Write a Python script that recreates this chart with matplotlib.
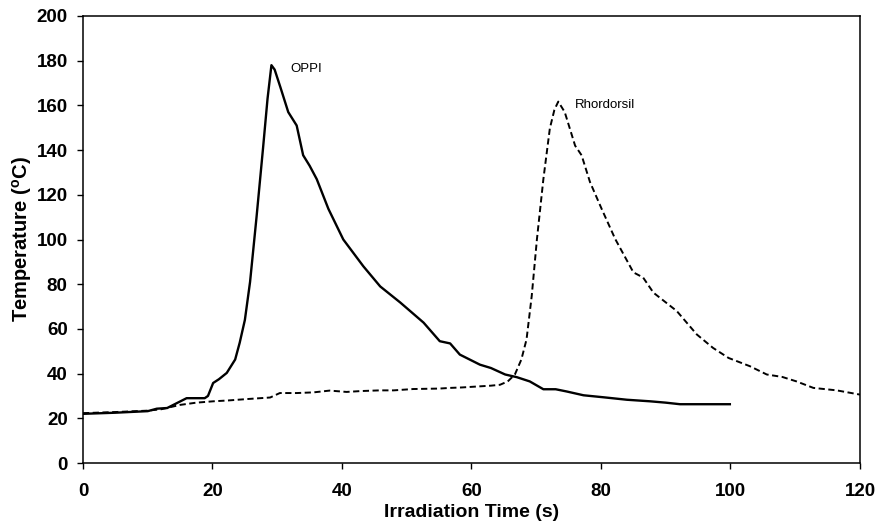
import matplotlib
matplotlib.use("Agg")
import matplotlib.pyplot as plt

plt.rcParams['font.family'] = ['Liberation Sans', 'DejaVu Sans']
plt.rcParams['mathtext.fontset'] = 'custom'
plt.rcParams['mathtext.rm'] = 'Liberation Sans:bold'
plt.rcParams['mathtext.default'] = 'rm'

# OPPI (solid)
oppi_t = [0, 5, 10, 11.4, 13, 14.5, 16, 17, 18.8, 19.3, 20.1, 21, 22.2, 23.5, 24.2,
          25, 25.8, 26.8, 27.8, 28.5, 29.1, 29.6, 30.5, 31.7, 33, 34, 35, 36.1, 37.9,
          40.2, 43.3, 45.9, 49, 52.6, 55.1, 56.7, 58.2, 61.3, 63, 65.2, 67, 69, 71.1,
          73, 74.7, 77.3, 80.4, 84, 87.6, 90, 92.2, 96, 99.9]
oppi_T = [22, 22.5, 23.2, 24.3, 24.6, 26.8, 29, 29, 29, 30, 35.8, 37.5, 40.3, 46.3, 53.8,
          64, 81, 110, 140.7, 163, 178, 176, 168, 157, 151, 137.7, 133, 127, 113.7,
          100, 88, 79, 71.8, 62.8, 54.5, 53.5, 48.5, 44, 42.5, 39.6, 38.4, 36.5, 33,
          33, 32, 30.3, 29.4, 28.3, 27.6, 27, 26.3, 26.3, 26.3]

# Rhordorsil (dashed)
rho_t = [0, 5, 9.8, 12, 15, 17.5, 20.1, 22.5, 25.3, 28.9, 30.4, 33, 35.6, 38.1, 40.7,
         43, 45.9, 48, 51, 55, 56.7, 58.5, 61.3, 63, 64.4, 65.6, 66.7, 67.7, 68.5,
         69.3, 70.1, 71.1, 72.1, 72.8, 73.4, 74.4, 76, 77, 78.3, 80.1, 82.2, 85,
         86.5, 88.1, 91.7, 94.8, 97.3, 99.7, 103, 105.6, 108, 110.2, 112.8, 116.4, 120]
rho_T = [22.3, 22.8, 23.4, 24, 26, 27, 27.6, 28, 28.6, 29.3, 31.3, 31.3, 31.6, 32.4, 31.8,
         32.2, 32.5, 32.5, 33.1, 33.3, 33.6, 33.8, 34.3, 34.6, 35, 36.5, 39.6, 46.3, 55.3,
         74.7, 100, 127, 149.7, 158, 161.7, 157, 142, 137.7, 125.7, 113.7, 100.2, 85.3,
         83, 76.2, 68, 57.5, 51.5, 47, 43.3, 39.6, 38.5, 36.5, 33.6, 32.5, 30.6]

fig = plt.figure(figsize=(8.78, 5.25), dpi=100)
ax = fig.add_axes([83/878, 1 - 463/525, (860 - 83)/878, (463 - 16)/525])

ax.plot(oppi_t, oppi_T, color='black', lw=1.7, ls='-', solid_joinstyle='round')
ax.plot(rho_t, rho_T, color='black', lw=1.4, ls=(0, (3.2, 1.8)))

ax.text(32.0, 176.5, 'OPPI', fontsize=9.5, va='center', ha='left')
ax.text(76.0, 160, 'Rhordorsil', fontsize=9.5, va='center', ha='left')

ax.set_xlim(0, 120)
ax.set_ylim(0, 200)
ax.set_xticks(range(0, 121, 20))
ax.set_yticks(range(0, 201, 20))
ax.tick_params(direction='out', length=4.5, width=1, labelsize=13.5)
ax.tick_params(axis='y', pad=6.5)
ax.tick_params(axis='x', pad=10)
for lab in ax.get_xticklabels() + ax.get_yticklabels():
    lab.set_fontweight('bold')
for s in ax.spines.values():
    s.set_linewidth(1.1)

ax.set_xlabel('Irradiation Time (s)', fontsize=14, fontweight='bold', labelpad=3)
ax.set_ylabel(r'Temperature ($^{o}$C)', fontsize=14.5, fontweight='bold', labelpad=1.5)

fig.savefig('out.png', dpi=100)
